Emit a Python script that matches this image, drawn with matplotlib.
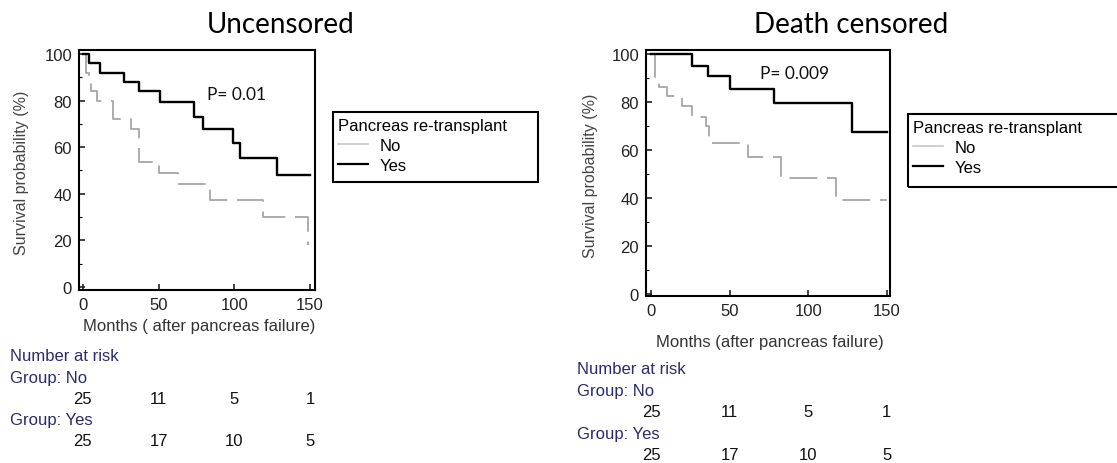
import matplotlib
matplotlib.use("Agg")
import matplotlib.pyplot as plt
from matplotlib.lines import Line2D
from matplotlib.patches import Rectangle
from matplotlib.ticker import MultipleLocator
from matplotlib.transforms import blended_transform_factory

plt.rcParams["font.family"] = ["Liberation Sans", "DejaVu Sans"]
plt.rcParams["lines.scale_dashes"] = False

# Kaplan-Meier step curves (months, survival %)
unc_no_t = [0, 2, 4, 5, 9.5, 20, 32, 37, 50, 63, 84, 119, 149]
unc_no_s = [100, 92, 88, 84, 80, 72, 68, 53.5, 49, 44, 37.5, 30, 18]
unc_yes_t = [0, 4, 11, 27, 37, 51, 73.5, 79.5, 99, 104, 128, 150]
unc_yes_s = [100, 96, 92, 88, 84, 79.5, 73, 68, 62, 55.5, 48, 48]

dc_no_t = [0, 2.5, 5, 10, 19.5, 26, 35, 37, 62, 82.5, 118, 150]
dc_no_s = [100, 90, 86.5, 82.5, 78.5, 74, 70, 63, 57, 48.5, 39, 39]
dc_yes_t = [0, 26, 36.5, 50, 78, 128, 150]
dc_yes_s = [100, 95, 91, 85.5, 79.5, 67.5, 67.5]

risk_times = [0, 50, 100, 150]
risk_no = [25, 11, 5, 1]
risk_yes = [25, 17, 10, 5]

titles = ["Uncensored", "Death censored"]
p_values = ["P= 0.01", "P= 0.009"]
xlabels = ["Months ( after pancreas failure)", "Months (after pancreas failure)"]

W, H = 1117, 464
fig = plt.figure(figsize=(W / 100, H / 100), dpi=100)

GRAY = "#a6a6a6"
NAVY = "#2b2b6b"


def fx(px):
    return px / W


def fy(py):
    return 1 - py / H


panels = [
    dict(rect=(79, 51, 315, 291), xlim=(-2.6, 153.3), ylim=(-1.3, 101.7),
         no=(unc_no_t, unc_no_s), yes=(unc_yes_t, unc_yes_s),
         title_xy=(281, 25), p_xy=(207, 95), ylab_x=22, xlab_y=327,
         legend_box=(333, 113, 538, 183),
         risk_x=10, risk_y=[357, 379, 400, 421, 441]),
    dict(rect=(646, 51, 890, 297), xlim=(-3.2, 152.1), ylim=(-0.96, 101.8),
         no=(dc_no_t, dc_no_s), yes=(dc_yes_t, dc_yes_s),
         title_xy=(851, 25), p_xy=(760, 74), ylab_x=590, xlab_y=343,
         legend_box=(908, 115, 1125, 188),
         risk_x=577, risk_y=[370, 392, 413, 435, 456]),
]

for i, pn in enumerate(panels):
    l, t, r, b = pn["rect"]
    ax = fig.add_axes([fx(l), fy(b), fx(r - l), (b - t) / H])
    ax.set_xlim(*pn["xlim"])
    ax.set_ylim(*pn["ylim"])

    nt, ns = pn["no"]
    yt, ys = pn["yes"]
    ax.step(nt, ns, where="post", color=GRAY, lw=1.3, dashes=(20, 7))
    ax.step(yt, ys, where="post", color="black", lw=1.7)

    for sp in ax.spines.values():
        sp.set_linewidth(1.5)
        sp.set_color("black")
    ax.set_xticks(risk_times)
    ax.set_yticks([0, 20, 40, 60, 80, 100])
    ax.yaxis.set_minor_locator(MultipleLocator(10))
    ax.tick_params(axis="both", which="major", direction="in", length=4,
                   width=1.2, labelsize=12, colors="#222222", pad=5)
    ax.tick_params(axis="y", which="minor", direction="in", length=2, width=0.8)

    fig.text(fx(pn["ylab_x"]), fy((t + b) / 2 + 2), "Survival probability (%)",
             rotation=90, ha="center", va="center", fontsize=11.5, color="#444444")
    fig.text(fx((l + r) / 2 + 2), fy(pn["xlab_y"]), xlabels[i],
             ha="center", va="center", fontsize=12, color="#333333")

    fig.text(fx(pn["title_xy"][0]), fy(pn["title_xy"][1]), titles[i],
             ha="center", va="center", fontsize=20, family=["Lato", "DejaVu Sans"],
             color="black")
    fig.text(fx(pn["p_xy"][0]), fy(pn["p_xy"][1]), p_values[i],
             ha="left", va="center", fontsize=12.5, family=["Lato", "DejaVu Sans"],
             color="#111111")

    # legend with a square black frame
    bx0, by0, bx1, by1 = pn["legend_box"]
    fig.add_artist(Rectangle((fx(bx0), fy(by1)), fx(bx1 - bx0), (by1 - by0) / H,
                             transform=fig.transFigure, fill=False,
                             edgecolor="black", lw=1.5))
    handles = [Line2D([], [], color="#c8c8c8", lw=1.2),
               Line2D([], [], color="black", lw=1.6)]
    fig.legend(handles, ["No", "Yes"], title="Pancreas re-transplant",
               loc="upper left",
               bbox_to_anchor=(fx(bx0 + 2), fy(by0 + 3)),
               borderaxespad=0, frameon=False,
               fontsize=12, title_fontsize=12, alignment="left",
               handlelength=1.8, handletextpad=0.7, labelspacing=0.28,
               borderpad=0.2)

    # number-at-risk table aligned with the time axis
    tr = blended_transform_factory(ax.transData, fig.transFigure)
    ry = pn["risk_y"]
    fig.text(fx(pn["risk_x"]), fy(ry[0]), "Number at risk", ha="left", va="center",
             fontsize=12, color=NAVY)
    fig.text(fx(pn["risk_x"]), fy(ry[1]), "Group: No", ha="left", va="center",
             fontsize=12, color=NAVY)
    fig.text(fx(pn["risk_x"]), fy(ry[3]), "Group: Yes", ha="left", va="center",
             fontsize=12, color=NAVY)
    for tm, n_no, n_yes in zip(risk_times, risk_no, risk_yes):
        fig.text(tm, fy(ry[2]), str(n_no), transform=tr, ha="center", va="center",
                 fontsize=12, color="#111111")
        fig.text(tm, fy(ry[4]), str(n_yes), transform=tr, ha="center", va="center",
                 fontsize=12, color="#111111")

fig.savefig("out.png", dpi=100, facecolor="white")
